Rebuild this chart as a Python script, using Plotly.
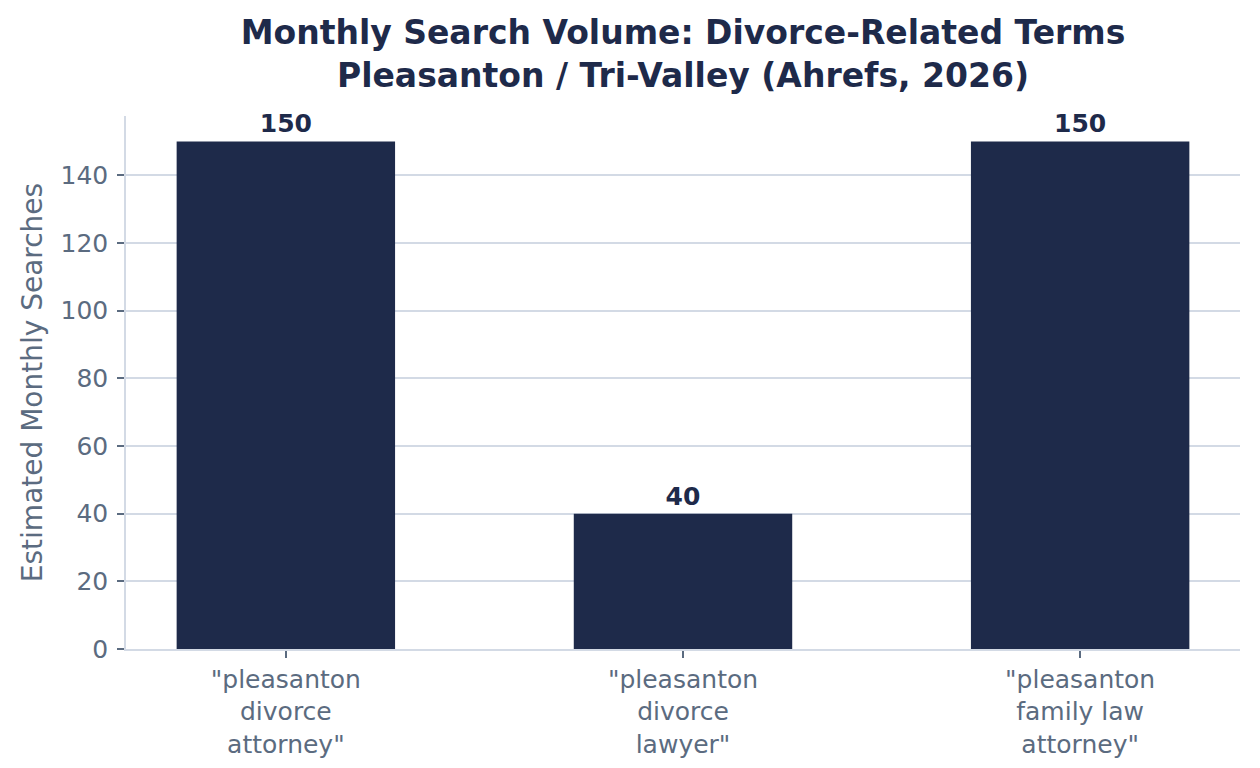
import plotly.graph_objects as go

# data
terms = ['"pleasanton<br>divorce<br>attorney"',
         '"pleasanton<br>divorce<br>lawyer"',
         '"pleasanton<br>family law<br>attorney"']
searches = [150, 40, 150]
y_ticks = [0, 20, 40, 60, 80, 100, 120, 140]

NAVY = "#1e2a4a"
SLATE = "#5b6b80"
GRID = "#d3dae5"
FONT = "DejaVu Sans"

fig = go.Figure()
fig.add_trace(go.Bar(
    x=[0, 1, 2],
    y=searches,
    width=0.55,
    marker=dict(color=NAVY, line=dict(width=0)),
    text=[f"<b>{v}</b>" for v in searches],
    textposition="outside",
    textfont=dict(family=FONT, size=25, color=NAVY),
    cliponaxis=False,
))

fig.update_xaxes(
    range=[-0.4025, 2.4025],
    tickmode="array",
    tickvals=[0, 1, 2],
    ticktext=terms,
    tickfont=dict(family=FONT, size=25, color=SLATE),
    ticks="outside", ticklen=7, tickwidth=1.5, tickcolor=SLATE,
    showline=True, linecolor=GRID, linewidth=1.5,
    showgrid=False, zeroline=False,
    automargin=False,
)

fig.update_yaxes(
    range=[0, 157.5],
    tickmode="array",
    tickvals=y_ticks,
    tickfont=dict(family=FONT, size=25, color=SLATE),
    ticks="outside", ticklen=7, tickwidth=1.5, tickcolor=SLATE,
    ticklabelstandoff=4,
    showline=True, linecolor=GRID, linewidth=1.5,
    showgrid=True, gridcolor=GRID, gridwidth=1.5,
    zeroline=False,
    automargin=False,
    title=dict(text="Estimated Monthly Searches",
               font=dict(family=FONT, size=28, color=SLATE), standoff=10),
)

# the page adds an 8px body margin, so the figure is 8px smaller
fig.update_layout(
    width=1252, height=760,
    paper_bgcolor="white", plot_bgcolor="white",
    margin=dict(l=118, r=20, t=108, b=119),
    showlegend=False,
    title=dict(
        text="<b>Monthly Search Volume: Divorce-Related Terms<br>Pleasanton / Tri-Valley (Ahrefs, 2026)</b>",
        font=dict(family=FONT, size=33, color=NAVY),
        x=0.5, xref="paper", xanchor="center",
        y=1 - 36 / 760, yref="container", yanchor="top",
    ),
)

fig.write_html("out.html")
